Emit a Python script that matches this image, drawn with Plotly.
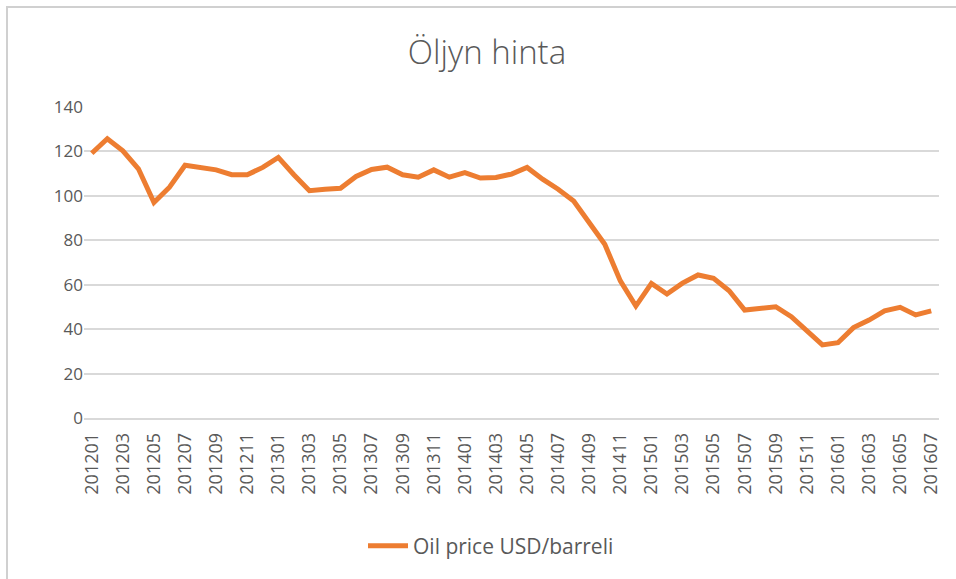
import plotly.graph_objects as go

months = [f"{y}{m:02d}" for y in (2012, 2013, 2014, 2015, 2016) for m in range(1, 13)][:55]

oil_price = [
    119.2, 125.7, 120.3, 112.2, 97.0, 103.9, 113.8, 112.8, 111.7, 109.5,
    109.5, 112.8, 117.3, 109.5, 102.3, 103.0, 103.4, 108.7, 111.9, 112.9,
    109.5, 108.4, 111.7, 108.4, 110.5, 108.0, 108.3, 109.8, 112.8, 107.5,
    103.0, 97.7, 88.4, 78.2, 61.7, 50.4, 60.6, 55.8, 60.7, 64.4,
    62.9, 57.3, 48.6, 49.4, 50.1, 45.6, 39.2, 32.9, 33.9, 40.7,
    44.1, 48.2, 49.8, 46.4, 48.2,
]

tick_labels = months[::2]

W, H = 956, 579
L, R, T, B = 84, 17, 107, 161
plot_w = W - L - R
plot_h = H - T - B

grey = "#595959"
grid = "#D9D9D9"
frame = "#D0D0D0"

fig = go.Figure()
fig.add_trace(go.Scatter(
    x=months, y=oil_price, mode="lines",
    name="Oil price USD/barreli",
    line=dict(color="#ED7D31", width=5),
))

fig.update_layout(
    width=W, height=H,
    margin=dict(l=L, r=R, t=T, b=B),
    paper_bgcolor="white", plot_bgcolor="white",
    font=dict(family="Open Sans", color=grey),
    title=dict(text="Öljyn hinta", x=487 / W, xref="container", xanchor="center",
               y=1 - 52 / H, yref="container", yanchor="middle",
               font=dict(size=33, color=grey, family="Open Sans", weight=300)),
    showlegend=True,
    legend=dict(orientation="h", x=(491 - L) / plot_w, xanchor="center",
                y=-(546 - (T + plot_h)) / plot_h, yanchor="middle",
                font=dict(size=21, color=grey), itemwidth=40),
    xaxis=dict(type="category", range=[-0.5, len(months) - 0.5],
               tickmode="array", tickvals=tick_labels, ticktext=tick_labels,
               tickangle=-90, tickfont=dict(size=18, color=grey),
               showgrid=False, showline=True, linecolor=grid, linewidth=1.5,
               ticks="", ticklabelstandoff=6, automargin=False),
    yaxis=dict(range=[0, 140], dtick=20, showgrid=True, gridcolor=grid, gridwidth=1.5,
               zeroline=True, zerolinecolor=grid, zerolinewidth=1.5,
               tickfont=dict(size=17, color=grey), ticks="", showline=False,
               automargin=False),
)

fig.write_html(
    "out.html", config={"displayModeBar": False},
    post_script=(
        "document.body.style.margin='0';document.body.style.overflow='hidden';"
        "var f=document.createElement('div');"
        "f.style.cssText='position:absolute;left:6px;top:6px;width:980px;height:600px;"
        "border:2px solid " + frame + ";pointer-events:none;box-sizing:border-box;';"
        "document.body.appendChild(f);"
    ),
)
